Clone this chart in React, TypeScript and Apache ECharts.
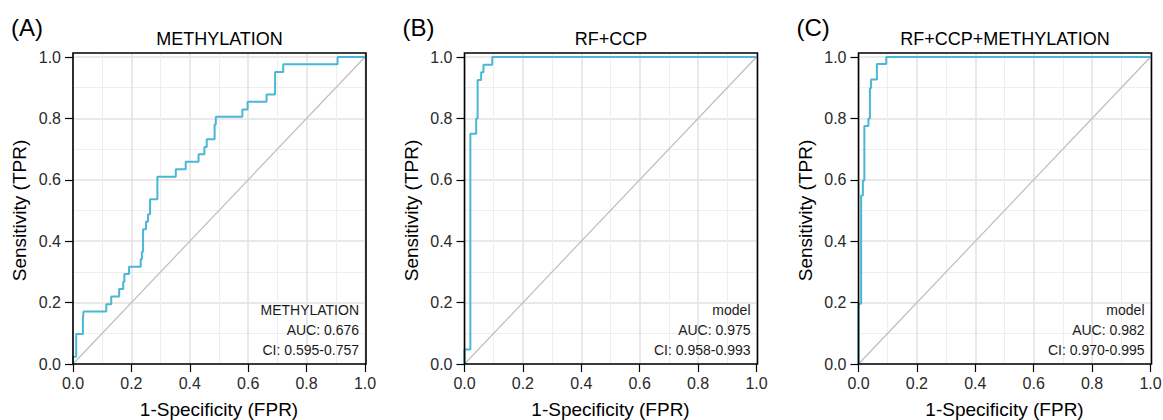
import React, { useEffect, useRef } from "react";
import * as echarts from "echarts";

const panelLabels = ["(A)", "(B)", "(C)"];
const panelTitles = ["METHYLATION", "RF+CCP", "RF+CCP+METHYLATION"];
const legendNames = ["METHYLATION", "model", "model"];
const aucTexts = ["AUC: 0.676", "AUC: 0.975", "AUC: 0.982"];
const ciTexts = ["CI: 0.595-0.757", "CI: 0.958-0.993", "CI: 0.970-0.995"];

// ROC staircase corner points (fpr reached horizontally, then tpr vertically)
const fprA = [0, 0, 0.011, 0.034, 0.036, 0.114, 0.131, 0.158, 0.172, 0.176, 0.192, 0.232, 0.236, 0.24, 0.25, 0.257, 0.264, 0.289, 0.352, 0.386, 0.43, 0.45, 0.458, 0.485, 0.489, 0.58, 0.598, 0.663, 0.692, 0.72, 0.906, 1];
const tprA = [0, 0.024, 0.098, 0.146, 0.171, 0.195, 0.22, 0.244, 0.268, 0.293, 0.317, 0.341, 0.366, 0.439, 0.463, 0.488, 0.537, 0.61, 0.634, 0.659, 0.683, 0.707, 0.732, 0.78, 0.805, 0.829, 0.854, 0.878, 0.951, 0.976, 1, 1];

const fprB = [0, 0, 0.02, 0.04, 0.045, 0.057, 0.065, 0.095, 1];
const tprB = [0, 0.047, 0.75, 0.8, 0.925, 0.95, 0.975, 1, 1];

const fprC = [0, 0, 0.009, 0.015, 0.02, 0.034, 0.039, 0.043, 0.063, 0.095, 1];
const tprC = [0, 0.196, 0.549, 0.598, 0.775, 0.8, 0.898, 0.927, 0.977, 1, 1];

const FONT = "Liberation Sans, Arial, Helvetica, sans-serif";
const CURVE = "#4AB7D6";

export default function App() {
  const ref = useRef<HTMLDivElement>(null);
  useEffect(() => {
    if (!ref.current) return;
    const chart = echarts.init(ref.current, null, { renderer: "svg" });
    const lefts = [73, 464.5, 858.5];
    const gw = 292;
    const top = 57;
    const gh = 307;
    const boxTop = 53;
    const boxBottom = 364;
    const curves = [
      [fprA, tprA],
      [fprB, tprB],
      [fprC, tprC],
    ];
    const grids: any[] = [];
    const xAxes: any[] = [];
    const yAxes: any[] = [];
    const series: any[] = [];
    const graphics: any[] = [];

    lefts.forEach((l) => {
      grids.push({ left: l, top, width: gw, height: gh, outerBoundsMode: "none", containLabel: false });
    });
    lefts.forEach((l) => {
      grids.push({ left: l, top: boxTop, width: gw, height: boxBottom - boxTop, outerBoundsMode: "none", containLabel: false });
    });

    lefts.forEach((l, i) => {
      xAxes.push({
        type: "value",
        gridIndex: i,
        min: 0,
        max: 1,
        interval: 0.2,
        axisLine: { show: false },
        axisTick: { show: true, length: 8, lineStyle: { color: "#000", width: 1.2 } },
        axisLabel: {
          fontSize: 16,
          color: "#2a2a2a",
          margin: 11,
          fontFamily: FONT,
          formatter: (v: number) => v.toFixed(1),
        },
        splitLine: { show: false },
        name: "1-Specificity (FPR)",
        nameLocation: "middle",
        nameGap: 36,
        nameTextStyle: { fontSize: 19, color: "#000", fontFamily: FONT },
      });
      yAxes.push({
        type: "value",
        gridIndex: i,
        min: 0,
        max: 1,
        interval: 0.2,
        axisLine: { show: false },
        axisTick: { show: true, length: 8, lineStyle: { color: "#000", width: 1.2 } },
        axisLabel: {
          fontSize: 16,
          color: "#2a2a2a",
          margin: 12,
          fontFamily: FONT,
          formatter: (v: number) => v.toFixed(1),
        },
        splitLine: { show: true, lineStyle: { color: "#e2e2e2", width: 1.5 } },
        minorTick: { show: false, splitNumber: 2 },
        minorSplitLine: { show: true, lineStyle: { color: "#eeeeee", width: 1 } },
        name: "Sensitivity (TPR)",
        nameLocation: "middle",
        nameGap: 44,
        nameTextStyle: { fontSize: 19, color: "#000", fontFamily: FONT },
      });
    });
    lefts.forEach((l, i) => {
      xAxes.push({
        type: "value",
        gridIndex: 3 + i,
        min: 0,
        max: 1,
        interval: 0.2,
        axisLine: { show: false },
        axisTick: { show: false },
        axisLabel: { show: false },
        splitLine: { show: true, lineStyle: { color: "#e2e2e2", width: 1.5 } },
        minorTick: { show: false, splitNumber: 2 },
        minorSplitLine: { show: true, lineStyle: { color: "#eeeeee", width: 1 } },
      });
      yAxes.push({
        type: "value",
        gridIndex: 3 + i,
        min: 0,
        max: 1,
        axisLine: { show: false },
        axisTick: { show: false },
        axisLabel: { show: false },
        splitLine: { show: false },
      });
    });

    curves.forEach(([fpr, tpr], i) => {
      series.push({
        type: "line",
        xAxisIndex: i,
        yAxisIndex: i,
        data: [
          [0, 0],
          [1, 1],
        ],
        showSymbol: false,
        symbol: "none",
        silent: true,
        lineStyle: { color: "#bdbdbd", width: 1.2 },
        z: 2,
      });
      series.push({
        type: "line",
        xAxisIndex: i,
        yAxisIndex: i,
        step: "end",
        clip: false,
        data: fpr.map((f, k) => [f, tpr[k]]),
        showSymbol: false,
        symbol: "none",
        lineStyle: { color: CURVE, width: 2 },
        z: 3,
      });
    });

    const boxW = 293;
    lefts.forEach((bl, i) => {
      graphics.push({
        type: "rect",
        z: 100,
        silent: true,
        shape: { x: bl, y: boxTop, width: boxW, height: boxBottom - boxTop },
        style: { fill: "none", stroke: "#000", lineWidth: 1.6 },
      });
      graphics.push({
        type: "text",
        z: 100,
        x: bl + boxW / 2,
        y: 39,
        style: {
          text: panelTitles[i],
          fontSize: 18,
          fontFamily: FONT,
          fill: "#000",
          textAlign: "center",
          textVerticalAlign: "middle",
        },
      });
      graphics.push({
        type: "text",
        z: 100,
        x: bl - 62,
        y: 27,
        style: {
          text: panelLabels[i],
          fontSize: 24,
          fontFamily: FONT,
          fill: "#000",
          textAlign: "left",
          textVerticalAlign: "middle",
        },
      });
      [legendNames[i], aucTexts[i], ciTexts[i]].forEach((t, k) => {
        graphics.push({
          type: "text",
          z: 100,
          x: bl + boxW - 7,
          y: 310 + k * 20,
          style: {
            text: t,
            fontSize: 14,
            fontFamily: FONT,
            fill: "#1a1a1a",
            textAlign: "right",
            textVerticalAlign: "middle",
          },
        });
      });
    });

    chart.setOption({
      animation: false,
      backgroundColor: "#fff",
      textStyle: { fontFamily: FONT },
      grid: grids,
      xAxis: xAxes,
      yAxis: yAxes,
      series,
      graphic: graphics,
    });
    return () => chart.dispose();
  }, []);
  return (
    <div
      ref={ref}
      style={{ position: "fixed", left: 0, top: 0, width: 1163, height: 420 }}
    />
  );
}
